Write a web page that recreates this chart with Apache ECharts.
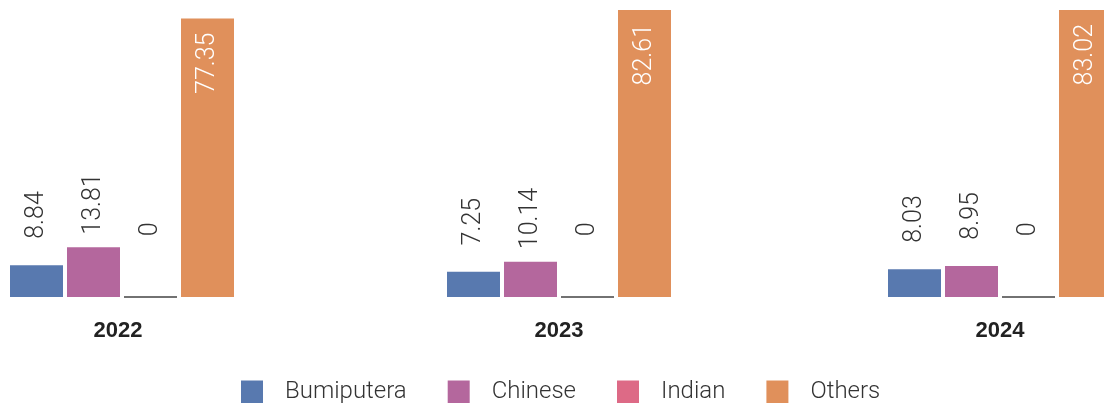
<!DOCTYPE html>
<html>
<head>
<meta charset="utf-8">
<script src="https://cdn.jsdelivr.net/npm/echarts@6/dist/echarts.min.js"></script>
<style>
  html, body { margin: 0; padding: 0; background: #fff; }
  #chart { width: 1104px; height: 403px; }
</style>
</head>
<body>
<div id="chart"></div>
<script>
// Ethnic composition by year (percent)
const years = ['2022', '2023', '2024'];
const seriesNames = ['Bumiputera', 'Chinese', 'Indian', 'Others'];
const bumiputera = [8.84, 7.25, 8.03];
const chinese = [13.81, 10.14, 8.95];
const indian = [0, 0, 0];
const others = [77.35, 82.61, 83.02];
// upper bound of each year's value axis
const yMax = [80, 'dataMax', 'dataMax'];

const colors = ['#5879af', '#b4679d', '#dd6a86', '#e0905b'];
const values = [bumiputera, chinese, indian, others];

const FONT = 'Roboto, "Liberation Sans", sans-serif';

// one small panel per year
const panelLeft = [10, 447, 888];
const panelTop = [9, 10, 10];

const grids = years.map((y, i) => ({
  left: panelLeft[i], width: 224, top: panelTop[i], bottom: 106,
  outerBoundsMode: 'none', containLabel: false
}));

const xAxes = years.map((y, i) => ({
  type: 'category', gridIndex: i, data: [y],
  axisLine: { show: false }, axisTick: { show: false },
  axisLabel: {
    margin: 23, fontFamily: 'Liberation Sans, Arial, sans-serif', fontWeight: 'bold',
    fontSize: 22, color: '#222',
    padding: i === 0 ? [0, 8, 0, 0] : 0
  }
}));

const yAxes = years.map((y, i) => ({
  type: 'value', gridIndex: i, min: 0, max: yMax[i], show: false,
  splitLine: { show: false }
}));

const series = [];
years.forEach((y, i) => {
  seriesNames.forEach((name, s) => {
    const isOthers = name === 'Others';
    const isIndian = name === 'Indian';
    series.push({
      type: 'bar', name, xAxisIndex: i, yAxisIndex: i,
      data: [values[s][i]],
      barWidth: 53, barGap: '7.55%',
      itemStyle: isIndian
        ? { color: colors[s], borderColor: '#444', borderWidth: 1.4 }
        : { color: colors[s] },
      label: {
        show: true,
        position: isOthers ? 'insideTop' : 'top',
        distance: isOthers ? 14 : 74,
        rotate: 90,
        align: 'right',
        verticalAlign: 'middle',
        fontFamily: FONT, fontWeight: 300, fontSize: 25,
        color: isOthers ? '#ffffff' : '#333333'
      },
      emphasis: { disabled: true },
      animation: false
    });
  });
});

const chart = echarts.init(document.getElementById('chart'), null, { renderer: 'canvas' });
chart.setOption({
  animation: false,
  color: colors,
  grid: grids,
  xAxis: xAxes,
  yAxis: yAxes,
  legend: {
    data: seriesNames,
    left: 241, top: 380, padding: 0,
    itemWidth: 22, itemHeight: 23, itemGap: 41,
    icon: 'rect',
    itemStyle: { borderWidth: 0 },
    textStyle: {
      fontFamily: FONT, fontWeight: 300, fontSize: 24, color: '#333',
      padding: [0, 0, 0, 17]
    }
  },
  series
});
</script>
</body>
</html>
